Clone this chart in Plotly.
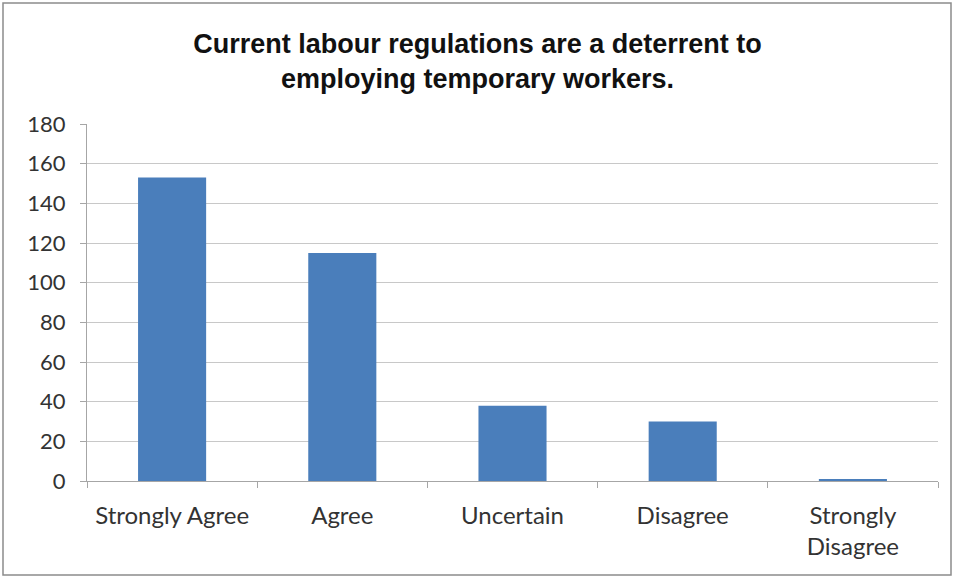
import plotly.graph_objects as go

categories = ["Strongly Agree", "Agree", "Uncertain", "Disagree", "Strongly<br>Disagree"]
responses = [153, 115, 38, 30, 1]
y_ticks = [0, 20, 40, 60, 80, 100, 120, 140, 160, 180]

fig = go.Figure(
    go.Bar(
        x=categories,
        y=responses,
        marker=dict(color="#4a7ebb", line=dict(width=0)),
        width=0.4,
    )
)

fig.update_layout(
    width=955,
    height=578,
    paper_bgcolor="white",
    plot_bgcolor="white",
    margin=dict(l=87, r=17, t=124, b=97),
    showlegend=False,
    title=dict(
        text="Current labour regulations are a deterrent to<br>employing temporary workers.",
        x=0.5,
        xanchor="center",
        y=1 - 53 / 578,
        yanchor="middle",
        yref="container",
        font=dict(family="Liberation Sans, Arial, sans-serif", size=27, color="#111111", weight="bold"),
    ),
    bargap=0.6,
)

fig.update_xaxes(
    type="category",
    showline=True,
    linecolor="#a6a6a6",
    linewidth=1,
    ticks="outside",
    tickson="boundaries",
    ticklen=6,
    tickcolor="#a6a6a6",
    showgrid=False,
    ticklabelstandoff=13,
    tickfont=dict(family="Lato, Open Sans, sans-serif", size=24, color="#333333"),
)

fig.update_yaxes(
    range=[0, 180],
    tickvals=y_ticks,
    showline=True,
    linecolor="#a6a6a6",
    linewidth=1,
    ticks="outside",
    ticklen=6,
    tickcolor="#a6a6a6",
    showgrid=True,
    gridcolor="#c8c8c8",
    gridwidth=1,
    zeroline=False,
    ticklabelstandoff=10,
    tickfont=dict(family="Lato, Open Sans, sans-serif", size=22, color="#333333"),
)

# outer chart frame
fig.add_shape(
    type="rect",
    xref="paper",
    yref="paper",
    x0=(3 - 87) / 851,
    x1=(951 - 87) / 851,
    y0=(481 - 575) / 357,
    y1=(481 - 3) / 357,
    line=dict(color="#8c8c8c", width=1.5),
    fillcolor="rgba(0,0,0,0)",
    layer="below",
)

fig.write_html("out.html")
